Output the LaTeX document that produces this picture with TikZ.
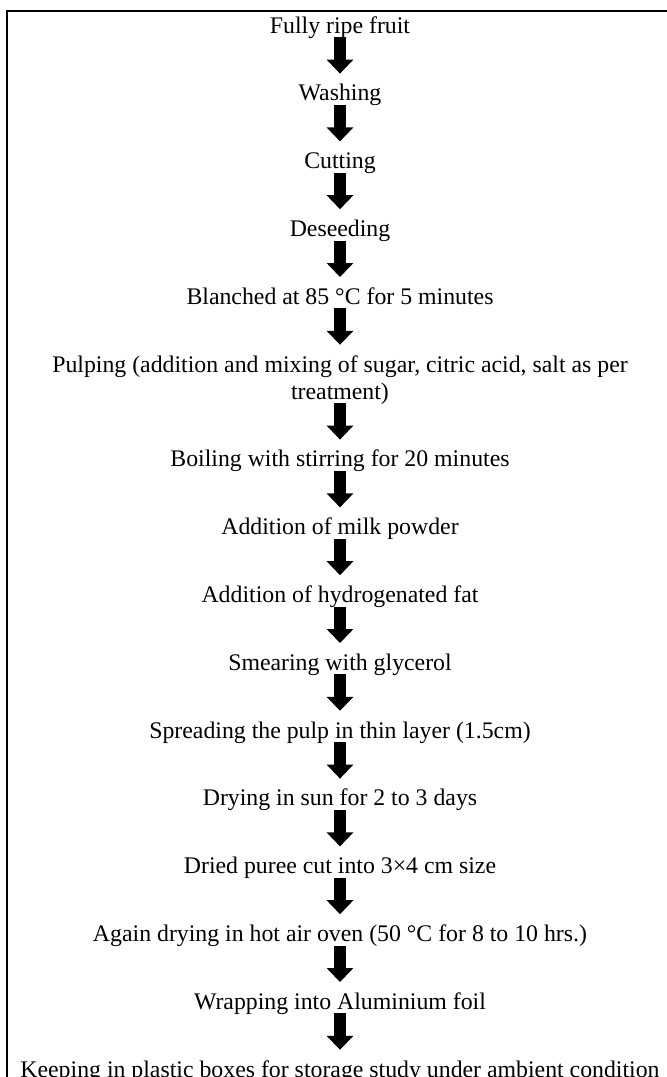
\documentclass[tikz,border=0pt]{standalone}
\usepackage{fontspec}
\setmainfont{Liberation Serif}
\usetikzlibrary{positioning}
\usetikzlibrary{arrows.meta}
\tikzset{%
	% Specifications for style of nodes:
	stage/.style = {inner sep=0pt, text height=16pt, text depth=5pt,
		font=\fontsize{23.8pt}{27pt}\selectfont},
	% two lines: baseline sits on the last line
	stagetwo/.style = {stage, align=center, text height=43pt},
	% the fat arrows between the steps
	flow/.style = {line width=12pt, -{Triangle[width=26pt, length=14pt]},
		shorten <=-1pt, shorten >=11pt},
	frame/.style = {line width=2pt, line cap=rect}
}
\begin{document}
\begin{tikzpicture}[x=1pt, y=1pt, node distance=46.4pt]
		\useasboundingbox (0,0) rectangle (667,-1077);
		\draw[frame] (7,-1080) -- (7,-11) -- (670,-11);
		\node (fruit) [stage, anchor=base] at (340,-33) {Fully ripe fruit};
		\node (washing) [stage, below=of fruit] {Washing};
		\node (cutting) [stage, below=of washing] {Cutting};
		\node (deseeding) [stage, below=of cutting] {Deseeding};
		\node (blanched) [stage, below=of deseeding] {Blanched at 85 °C for 5 minutes};
		\node (pulping) [stagetwo, below=of blanched] {Pulping (addition and mixing of sugar, citric acid, salt as per\\ treatment)};
		\node (boiling) [stage, below=of pulping] {Boiling with stirring for 20 minutes};
		\node (milk) [stage, below=of boiling] {Addition of milk powder};
		\node (fat) [stage, below=of milk] {Addition of hydrogenated fat};
		\node (smearing) [stage, below=of fat] {Smearing with glycerol};
		\node (spreading) [stage, below=of smearing] {Spreading the pulp in thin layer (1.5cm)};
		\node (sundrying) [stage, below=of spreading] {Drying in sun for 2 to 3 days};
		\node (cutsize) [stage, below=of sundrying] {Dried puree cut into 3×4 cm size};
		\node (ovendrying) [stage, below=of cutsize] {Again drying in hot air oven (50 °C for 8 to 10 hrs.)};
		\node (wrapping) [stage, below=of ovendrying] {Wrapping into Aluminium foil};
		\node (storage) [stage, below=of wrapping] {Keeping in plastic boxes for storage study under ambient condition};
		\draw[flow] (fruit) -- (washing);
		\draw[flow] (washing) -- (cutting);
		\draw[flow] (cutting) -- (deseeding);
		\draw[flow] (deseeding) -- (blanched);
		\draw[flow] (blanched) -- (pulping);
		\draw[flow] (pulping) -- (boiling);
		\draw[flow] (boiling) -- (milk);
		\draw[flow] (milk) -- (fat);
		\draw[flow] (fat) -- (smearing);
		\draw[flow] (smearing) -- (spreading);
		\draw[flow] (spreading) -- (sundrying);
		\draw[flow] (sundrying) -- (cutsize);
		\draw[flow] (cutsize) -- (ovendrying);
		\draw[flow] (ovendrying) -- (wrapping);
		\draw[flow] (wrapping) -- (storage);
	\end{tikzpicture}
\end{document}
